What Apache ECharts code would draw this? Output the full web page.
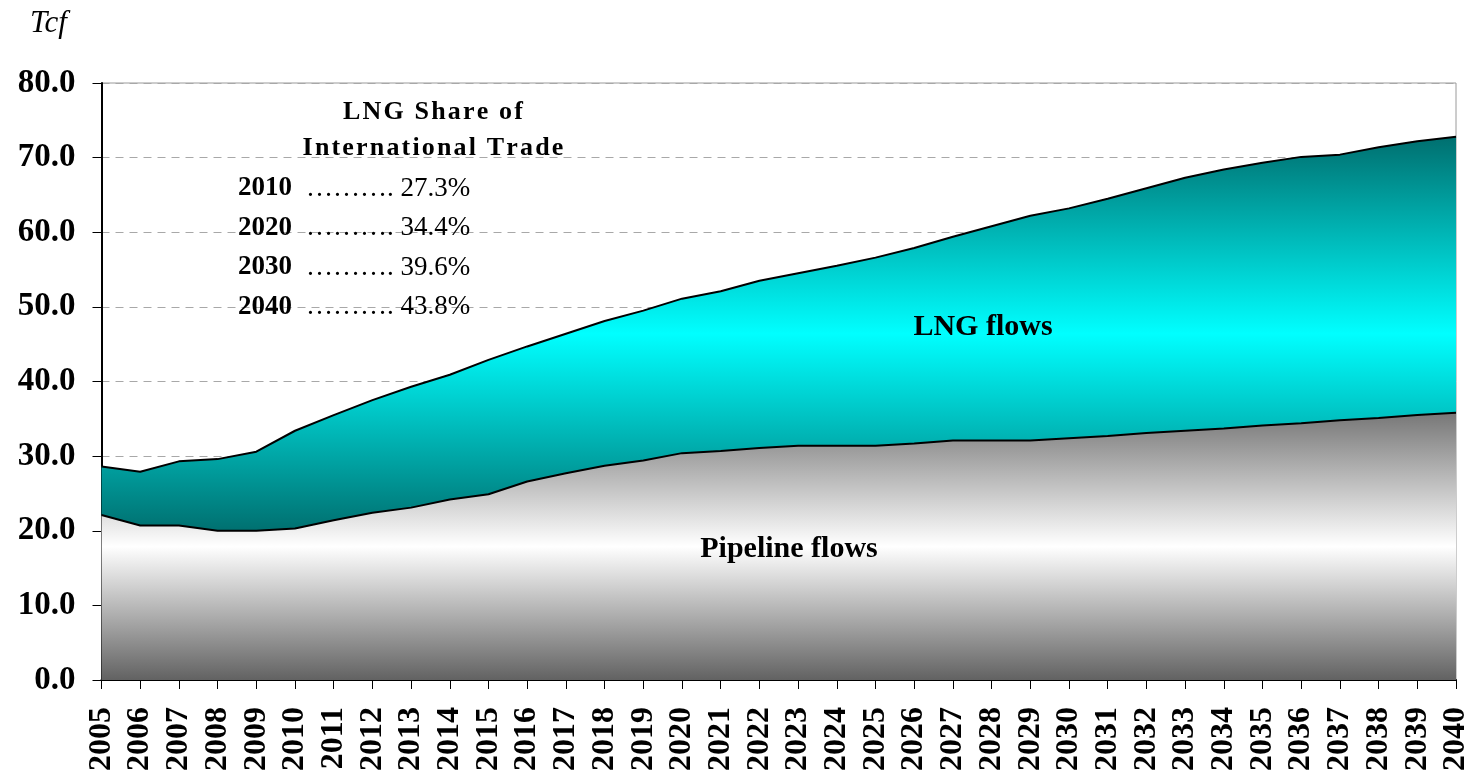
<!DOCTYPE html>
<html>
<head>
<meta charset="utf-8">
<script src="https://cdn.jsdelivr.net/npm/echarts@6/dist/echarts.min.js"></script>
<style>
html,body{margin:0;padding:0;background:#fff;}
#chart{width:1472px;height:779px;}
</style>
</head>
<body>
<div id="chart"></div>
<script>
const years = ['2005','2006','2007','2008','2009','2010','2011','2012','2013','2014','2015','2016','2017','2018','2019','2020','2021','2022','2023','2024','2025','2026','2027','2028','2029','2030','2031','2032','2033','2034','2035','2036','2037','2038','2039','2040'];
const pipelineFlows = [22.1,20.7,20.7,20.0,20.0,20.3,21.4,22.4,23.1,24.2,24.9,26.6,27.7,28.7,29.4,30.4,30.7,31.1,31.4,31.4,31.4,31.7,32.1,32.1,32.1,32.4,32.7,33.1,33.4,33.7,34.1,34.4,34.8,35.1,35.5,35.8];
const totalFlows = [28.6,27.9,29.3,29.6,30.6,33.4,35.5,37.5,39.3,40.9,42.9,44.7,46.4,48.1,49.5,51.1,52.1,53.5,54.5,55.5,56.6,57.9,59.4,60.8,62.2,63.2,64.5,65.9,67.3,68.4,69.3,70.1,70.4,71.4,72.2,72.8];
const lngFlows = totalFlows.map((t, i) => +(t - pipelineFlows[i]).toFixed(1));
const yTicks = [0,10,20,30,40,50,60,70,80];
const shareYears = ['2010','2020','2030','2040'];
const shareValues = ['27.3%','34.4%','39.6%','43.8%'];

const serif = '"Liberation Serif","Times New Roman",serif';
const spaced = s => s.split('').join('\u200A');
const chart = echarts.init(document.getElementById('chart'), null, {renderer:'canvas'});

const shareTexts = [];
shareYears.forEach((y, i) => {
  const cy = 189 + i * 39.5;
  shareTexts.push({type:'text', left:238, top:cy - 14, z:100,
    style:{text:y, font:'bold 27px ' + serif, fill:'#000'}});
  shareTexts.push({type:'text', left:306, top:cy - 14, z:100,
    style:{text:'………. ' + shareValues[i], font:'27px ' + serif, fill:'#000'}});
});

chart.setOption({
  animation:false,
  backgroundColor:'#fff',
  grid:{left:101.5, right:14, top:83, bottom:99, show:true, borderColor:'#9a9a9a', borderWidth:1, backgroundColor:'transparent'},
  xAxis:{
    type:'category', data:years, boundaryGap:false,
    axisLine:{lineStyle:{color:'#000', width:2}},
    axisTick:{show:true, inside:false, length:9, interval:0, lineStyle:{color:'#000', width:1}},
    axisLabel:{interval:0, rotate:90, margin:27, color:'#000', fontFamily:serif, fontWeight:'bold', fontSize:32}
  },
  yAxis:{
    type:'value', min:0, max:80, interval:10,
    axisLine:{show:true, lineStyle:{color:'#000', width:2}},
    axisTick:{show:true, length:9, lineStyle:{color:'#000', width:1}},
    axisLabel:{margin:26, color:'#000', fontFamily:serif, fontWeight:'bold', fontSize:33,
      formatter:v => yTicks.includes(v) ? v.toFixed(1) : ''},
    splitLine:{show:true, lineStyle:{color:'#a8a8a8', type:[8,6], width:1}}
  },
  graphic:[
    {type:'text', left:30, top:8, style:{text:'Tcf', font:'italic 31px ' + serif, fill:'#000'}},
    {type:'text', x:433, y:112, z:100, style:{text:spaced('LNG Share of'), font:'bold 26px ' + serif, fill:'#000', textAlign:'center', textVerticalAlign:'middle'}},
    {type:'text', x:433, y:148, z:100, style:{text:spaced('International Trade'), font:'bold 26px ' + serif, fill:'#000', textAlign:'center', textVerticalAlign:'middle'}},
    ...shareTexts,
    {type:'text', x:983, y:327, z:100, style:{text:'LNG flows', font:'bold 30px ' + serif, fill:'#000', textAlign:'center', textVerticalAlign:'middle'}},
    {type:'text', x:789, y:549, z:100, style:{text:'Pipeline flows', font:'bold 30px ' + serif, fill:'#000', textAlign:'center', textVerticalAlign:'middle'}}
  ],
  series:[
    {
      name:'Pipeline flows', type:'line', stack:'total', data:pipelineFlows,
      symbol:'none', lineStyle:{color:'#000', width:2},
      areaStyle:{opacity:1, color:new echarts.graphic.LinearGradient(0,0,0,1,[
        {offset:0, color:'#777777'},{offset:0.5, color:'#ffffff'},{offset:1, color:'#626262'}])}
    },
    {
      name:'LNG flows', type:'line', stack:'total', data:lngFlows,
      symbol:'none', lineStyle:{color:'#000', width:2},
      areaStyle:{opacity:1, color:new echarts.graphic.LinearGradient(0,0,0,1,[
        {offset:0, color:'#006f6f'},{offset:0.5, color:'#00ffff'},{offset:1, color:'#007070'}])}
    }
  ]
});
</script>
</body>
</html>
